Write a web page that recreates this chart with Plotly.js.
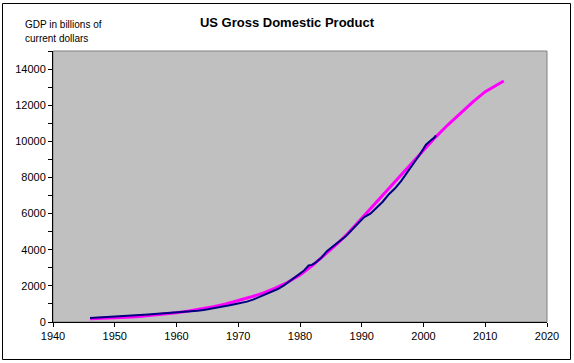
<!DOCTYPE html>
<html>
<head>
<meta charset="utf-8">
<script src="https://cdn.plot.ly/plotly-3.0.1.min.js"></script>
<style>
  html, body { margin: 0; padding: 0; background: #ffffff; }
  #chart { width: 574px; height: 363px; }
</style>
</head>
<body>
<div id="chart"></div>
<script>
const gdpYears = [1946.0, 1946.4, 1947.4, 1948.4, 1949.4, 1950.4, 1951.4, 1952.4, 1953.4, 1954.4,
  1955.4, 1956.4, 1957.4, 1958.4, 1959.4, 1960.4, 1961.4, 1962.4, 1963.4, 1964.4,
  1965.4, 1966.4, 1967.4, 1968.4, 1969.4, 1970.4, 1971.4, 1972.4, 1973.4, 1974.4,
  1975.4, 1976.4, 1977.4, 1978.4, 1979.4, 1980.2, 1980.6, 1981.4, 1981.9, 1982.4,
  1983.4, 1984.4, 1985.4, 1986.4, 1987.4, 1988.4, 1989.4, 1990.4, 1991.4, 1992.4,
  1993.4, 1994.4, 1995.4, 1996.4, 1997.4, 1998.4, 1999.4, 2000.4, 2001.0, 2001.4,
  2001.8, 2002.0];
const gdpValues = [215, 222, 244, 269, 267, 294, 339, 358, 379, 380,
  415, 438, 461, 467, 507, 526, 545, 586, 618, 664,
  719, 788, 833, 910, 985, 1039, 1127, 1238, 1383, 1500,
  1638, 1825, 2031, 2295, 2563, 2725, 2830, 3128, 3160, 3255,
  3537, 3933, 4220, 4463, 4740, 5104, 5484, 5803, 5996, 6338,
  6657, 7072, 7398, 7817, 8304, 8747, 9268, 9817, 10020, 10110,
  10220, 10330];

// Fitted trend (magenta curve)
const fitYears = [1946, 1948, 1950, 1952, 1954, 1956, 1958, 1960, 1962, 1964,
  1966, 1968, 1970, 1972, 1974, 1976, 1978, 1980, 1982, 1984,
  1986, 1988, 1990, 1992, 1994, 1996, 1998, 2000, 2002, 2004,
  2006, 2008, 2010, 2012, 2013];
const fitValues = [185, 205, 230, 265, 310, 365, 430, 510, 605, 715,
  845, 1000, 1180, 1380, 1600, 1870, 2200, 2600, 3120, 3700,
  4320, 4990, 5740, 6500, 7250, 7990, 8720, 9460, 10250, 10930,
  11580, 12180, 12750, 13130, 13337];

const titleText = 'US Gross Domestic Product';
const yTitleLines = ['GDP in billions of', 'current dollars'];

const FONT = 'Liberation Sans, Arial, sans-serif';
const L = 53, R = 27, T = 51, B = 41, W = 574, H = 363;
const pw = W - L - R, ph = H - T - B;
const px = x => (x - L) / pw;
const py = y => (H - B - y) / ph;

const traces = [
  { x: fitYears, y: fitValues, type: 'scatter', mode: 'lines',
    line: { color: '#FF00FF', width: 3 }, hoverinfo: 'skip' },
  { x: gdpYears, y: gdpValues, type: 'scatter', mode: 'lines',
    line: { color: '#000080', width: 2 }, hoverinfo: 'skip' }
];

const axisCommon = {
  showgrid: false, zeroline: false, showline: true, linecolor: '#000000', linewidth: 1,
  ticks: 'outside', ticklen: 4, tickwidth: 1, tickcolor: '#000000', tickformat: 'd',
  tickfont: { family: FONT, size: 11, color: '#000000' }
};

const layout = {
  width: W, height: H,
  margin: { l: L, r: R, t: T, b: B, pad: 0 },
  paper_bgcolor: '#FFFFFF', plot_bgcolor: '#C0C0C0',
  showlegend: false,
  title: { text: '<b>' + titleText + '</b>', font: { family: FONT, size: 13, color: '#000000' },
    x: 0.5, xref: 'container', xanchor: 'center', y: 1 - 22 / H, yref: 'container', yanchor: 'middle' },
  xaxis: Object.assign({}, axisCommon, { range: [1940, 2020], tick0: 1940, dtick: 10 }),
  yaxis: Object.assign({}, axisCommon, { range: [0, 15000], tick0: 0, dtick: 2000,
    minor: { dtick: 1000, ticks: 'outside', ticklen: 4, tickcolor: '#000000', showgrid: false } }),
  annotations: [
    { text: yTitleLines[0], xref: 'paper', yref: 'paper', x: px(23), y: py(25), xanchor: 'left', yanchor: 'middle',
      showarrow: false, font: { family: FONT, size: 10, color: '#000000' } },
    { text: yTitleLines[1], xref: 'paper', yref: 'paper', x: px(23), y: py(38.5), xanchor: 'left', yanchor: 'middle',
      showarrow: false, font: { family: FONT, size: 10, color: '#000000' } }
  ],
  shapes: [
    { type: 'rect', xref: 'paper', yref: 'paper', x0: 0, x1: 1, y0: 0, y1: 1,
      line: { color: '#808080', width: 1 }, layer: 'below' },
    { type: 'rect', xref: 'paper', yref: 'paper', x0: px(2.5), x1: px(570.5), y0: py(359.5), y1: py(3.5),
      line: { color: '#000000', width: 1 }, layer: 'above' }
  ]
};

Plotly.newPlot('chart', traces, layout, { staticPlot: true, displayModeBar: false });
</script>
</body>
</html>
